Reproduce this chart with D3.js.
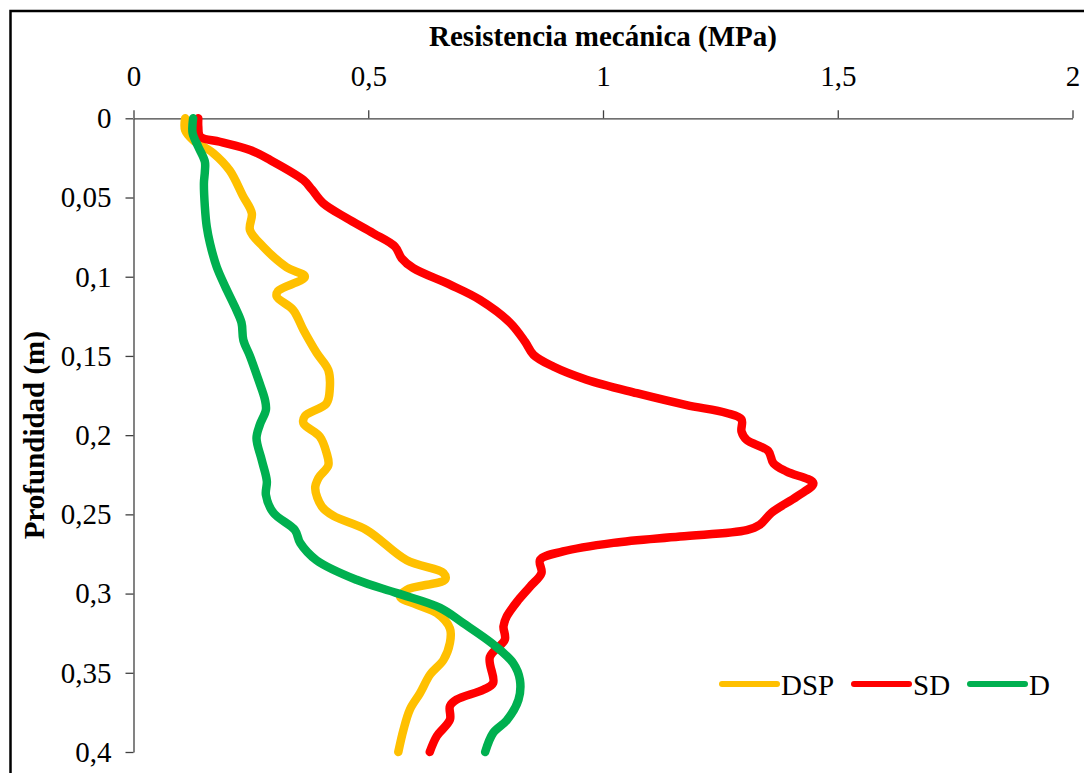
<!DOCTYPE html>
<html>
<head>
<meta charset="utf-8">
<script src="https://cdn.jsdelivr.net/npm/d3@7"></script>
<style>
  html, body { margin: 0; padding: 0; background: #fff; }
  svg { display: block; }
  text { font-family: "Liberation Serif", "Times New Roman", serif; fill: #000; }
</style>
</head>
<body>
<svg id="chart" width="1084" height="773"></svg>
<script>
// ---- Data ----
const xTicks = [0, 0.5, 1, 1.5, 2];
const xTickLabels = ["0", "0,5", "1", "1,5", "2"];
const yTicks = [0, 0.05, 0.1, 0.15, 0.2, 0.25, 0.3, 0.35, 0.4];
const yTickLabels = ["0", "0,05", "0,1", "0,15", "0,2", "0,25", "0,3", "0,35", "0,4"];
const seriesNames = ["DSP", "SD", "D"];
const seriesColors = ["#FFC000", "#FF0000", "#00B050"];

const dspDepth = [0, 0.0074, 0.0137, 0.022, 0.033, 0.049, 0.06, 0.0705, 0.081, 0.094, 0.1, 0.109, 0.1125, 0.121, 0.1336, 0.148, 0.159, 0.171, 0.18, 0.188, 0.1925, 0.201, 0.211, 0.219, 0.227, 0.2335, 0.245, 0.251, 0.26, 0.279, 0.287, 0.291, 0.2976, 0.302, 0.307, 0.3123, 0.322, 0.331, 0.342, 0.351, 0.363, 0.373, 0.386, 0.4];
const dspValues = [0.11, 0.11, 0.127, 0.17, 0.205, 0.233, 0.252, 0.248, 0.276, 0.326, 0.365, 0.308, 0.305, 0.34, 0.362, 0.39, 0.415, 0.418, 0.411, 0.365, 0.362, 0.397, 0.411, 0.415, 0.394, 0.387, 0.401, 0.426, 0.497, 0.582, 0.66, 0.664, 0.582, 0.568, 0.603, 0.646, 0.674, 0.674, 0.66, 0.632, 0.61, 0.589, 0.575, 0.564];

const sdDepth = [0, 0.0053, 0.0116, 0.0148, 0.02, 0.0263, 0.039, 0.045, 0.0536, 0.063, 0.0726, 0.081, 0.0883, 0.0946, 0.105, 0.1146, 0.129, 0.141, 0.1493, 0.1567, 0.165, 0.1735, 0.181, 0.186, 0.19, 0.1977, 0.203, 0.21, 0.2177, 0.223, 0.2303, 0.2387, 0.249, 0.2566, 0.26, 0.264, 0.268, 0.2734, 0.2787, 0.287, 0.2955, 0.304, 0.3144, 0.3207, 0.329, 0.34, 0.3565, 0.3607, 0.367, 0.371, 0.3796, 0.39, 0.4];
const sdValues = [0.138, 0.138, 0.142, 0.184, 0.248, 0.291, 0.362, 0.38, 0.404, 0.454, 0.511, 0.557, 0.571, 0.596, 0.674, 0.738, 0.802, 0.834, 0.852, 0.894, 0.965, 1.072, 1.178, 1.263, 1.295, 1.295, 1.306, 1.352, 1.363, 1.391, 1.448, 1.413, 1.359, 1.334, 1.306, 1.164, 1.022, 0.915, 0.866, 0.869, 0.845, 0.82, 0.795, 0.788, 0.791, 0.759, 0.766, 0.745, 0.688, 0.674, 0.674, 0.646, 0.631];

const dDepth = [0, 0.0095, 0.018, 0.0274, 0.0337, 0.041, 0.0558, 0.0684, 0.079, 0.0936, 0.106, 0.119, 0.129, 0.14, 0.15, 0.165, 0.1777, 0.184, 0.1935, 0.202, 0.2156, 0.229, 0.2377, 0.249, 0.26, 0.268, 0.279, 0.2913, 0.2997, 0.309, 0.3186, 0.332, 0.344, 0.3544, 0.367, 0.38, 0.388, 0.4];
const dValues = [0.127, 0.126, 0.138, 0.152, 0.152, 0.15, 0.152, 0.156, 0.163, 0.177, 0.195, 0.216, 0.23, 0.234, 0.248, 0.266, 0.28, 0.282, 0.269, 0.262, 0.273, 0.284, 0.282, 0.298, 0.344, 0.355, 0.39, 0.475, 0.561, 0.653, 0.702, 0.766, 0.809, 0.823, 0.82, 0.795, 0.766, 0.749];

// ---- Build series table from the arrays ----
const series = [
  { name: seriesNames[0], color: seriesColors[0], pts: dspDepth.map((d, i) => ({ d, v: dspValues[i] })) },
  { name: seriesNames[1], color: seriesColors[1], pts: sdDepth.map((d, i) => ({ d, v: sdValues[i] })) },
  { name: seriesNames[2], color: seriesColors[2], pts: dDepth.map((d, i) => ({ d, v: dValues[i] })) }
];

const svg = d3.select("#chart");
const W = 1084, H = 773;
const plot = { left: 133.5, right: 1072.5, top: 118.3, bottom: 752 };

// outer chart border (extends past the visible area on the right and bottom)
svg.append("rect")
  .attr("x", 10.5).attr("y", 11)
  .attr("width", 1100).attr("height", 800)
  .attr("fill", "none").attr("stroke", "#000").attr("stroke-width", 2.5);

const x = d3.scaleLinear().domain([0, 2]).range([plot.left, plot.right]);
const y = d3.scaleLinear().domain([0, 0.4]).range([plot.top, plot.bottom]);

// X axis on top
const xAxis = d3.axisTop(x)
  .tickValues(xTicks)
  .tickFormat((d, i) => xTickLabels[i])
  .tickSize(8)
  .tickSizeOuter(0)
  .tickPadding(24);
const gx = svg.append("g").attr("transform", `translate(0,${plot.top})`).call(xAxis);
gx.select(".domain").attr("stroke", "#404040").attr("stroke-width", 1.3);
gx.selectAll(".tick line").attr("stroke", "#404040").attr("stroke-width", 1.3);
gx.selectAll(".tick text")
  .attr("font-family", "Liberation Serif, serif")
  .attr("font-size", 29)
  .attr("fill", "#000");

// Y axis on left
const yAxis = d3.axisLeft(y)
  .tickValues(yTicks)
  .tickFormat((d, i) => yTickLabels[i])
  .tickSize(8)
  .tickSizeOuter(0)
  .tickPadding(14);
const gy = svg.append("g").attr("transform", `translate(${plot.left},0)`).call(yAxis);
gy.select(".domain").attr("stroke", "#404040").attr("stroke-width", 1.3);
gy.selectAll(".tick line").attr("stroke", "#404040").attr("stroke-width", 1.3);
gy.selectAll(".tick text")
  .attr("font-family", "Liberation Serif, serif")
  .attr("font-size", 29)
  .attr("fill", "#000");

// Axis titles
svg.append("text")
  .attr("x", (plot.left + plot.right) / 2)
  .attr("y", 46)
  .attr("text-anchor", "middle")
  .attr("font-size", 29)
  .attr("font-weight", "bold")
  .text("Resistencia mecánica (MPa)");

svg.append("text")
  .attr("transform", `translate(44,${(plot.top + plot.bottom) / 2}) rotate(-90)`)
  .attr("text-anchor", "middle")
  .attr("font-size", 29)
  .attr("font-weight", "bold")
  .text("Profundidad (m)");

// Lines
const line = d3.line()
  .x(p => x(p.v))
  .y(p => y(p.d))
  .curve(d3.curveCatmullRom.alpha(0.5));

svg.append("g").selectAll("path")
  .data(series)
  .join("path")
  .attr("d", s => line(s.pts))
  .attr("fill", "none")
  .attr("stroke", s => s.color)
  .attr("stroke-width", 8.5)
  .attr("stroke-linecap", "round")
  .attr("stroke-linejoin", "round");

// Legend
const legendX = [722, 854, 970];
const lg = svg.append("g");
series.forEach((s, i) => {
  const g = lg.append("g").attr("transform", `translate(${legendX[i]},684)`);
  g.append("line")
    .attr("x1", 0).attr("x2", 55)
    .attr("y1", 0).attr("y2", 0)
    .attr("stroke", s.color)
    .attr("stroke-width", 6)
    .attr("stroke-linecap", "round");
  g.append("text")
    .attr("x", 59).attr("y", 11)
    .attr("font-size", 29)
    .text(s.name);
});
</script>
</body>
</html>
